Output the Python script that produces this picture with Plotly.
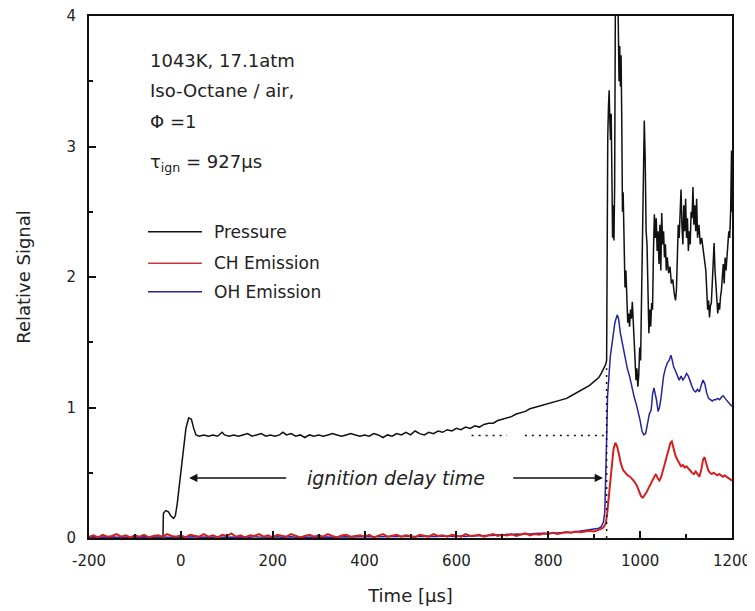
import plotly.graph_objects as go

# ---------------- data ----------------
tau_ign = 927          # ignition delay [µs]
plateau = 0.785        # post-reflected-shock pressure level

time_p = [-200, -39, -38, -33, -27, -22, -16, -12, -8, -2, 5, 11, 17, 23, 28, 33, 40,
          50, 60, 70, 80, 90, 95, 105, 115, 125, 135, 145, 155, 165, 175, 185, 195, 205, 215, 222,
          230, 240, 250, 260, 270, 280, 290, 300, 310, 320, 330, 340, 350, 360, 370, 380, 390,
          400, 410, 420, 430, 440, 450, 460, 470, 480, 490, 500, 510, 520, 530, 540, 550, 560,
          570, 580, 590, 600, 610, 620, 630, 640, 650, 660, 670, 680, 690, 700, 710, 720, 730,
          740, 750, 760, 770, 780, 790, 800, 810, 820, 830, 840, 850, 860, 870, 880, 890, 900,
          910, 915, 920, 925, 927,
          928, 929.5, 931, 932.5, 934, 935.5, 937, 938.5, 940, 941.5, 943, 944.5, 946, 949, 952,
          954, 955.5, 957, 958.5, 960, 961.5, 963, 965, 967, 969, 971, 973, 975, 977, 979, 981,
          983, 985, 987, 989, 991, 993, 995, 997, 999, 1001, 1003, 1005, 1007, 1009, 1011, 1013,
          1015, 1017, 1019, 1021, 1023, 1025, 1027, 1029, 1031, 1033, 1035, 1037, 1039, 1041,
          1043, 1045, 1047, 1049, 1051, 1053, 1055, 1057, 1059, 1062, 1065, 1068, 1071, 1074,
          1077, 1079, 1081, 1083, 1085, 1087, 1089, 1091, 1093, 1095, 1097, 1099, 1101, 1103,
          1105, 1107, 1109, 1111, 1113, 1115, 1117, 1119, 1121, 1123, 1125, 1128, 1131, 1134,
          1137, 1140, 1143, 1145, 1147, 1149, 1151, 1153, 1155, 1157, 1159, 1161, 1163, 1165,
          1167, 1169, 1171, 1173, 1175, 1177, 1179, 1181, 1183, 1185, 1187, 1189, 1191, 1193,
          1195, 1197, 1199, 1200]
pressure = [0.0, 0.0, 0.19, 0.21, 0.20, 0.17, 0.15, 0.17, 0.26, 0.45, 0.68, 0.84, 0.92, 0.91, 0.84, 0.79, 0.78,
            0.79, 0.78, 0.79, 0.78, 0.81, 0.79, 0.78, 0.79, 0.78, 0.79, 0.80, 0.78, 0.79, 0.80, 0.78, 0.79, 0.78, 0.79, 0.81,
            0.79, 0.80, 0.78, 0.79, 0.77, 0.79, 0.78, 0.79, 0.78, 0.79, 0.80, 0.79, 0.78, 0.79, 0.80, 0.79, 0.78,
            0.79, 0.78, 0.80, 0.79, 0.77, 0.79, 0.78, 0.80, 0.79, 0.81, 0.79, 0.82, 0.80, 0.79, 0.81, 0.80, 0.82,
            0.81, 0.83, 0.82, 0.84, 0.83, 0.85, 0.84, 0.86, 0.85, 0.87, 0.88, 0.88, 0.90, 0.91, 0.92, 0.93, 0.95,
            0.96, 0.97, 0.99, 1.00, 1.01, 1.02, 1.03, 1.04, 1.05, 1.06, 1.07, 1.09, 1.11, 1.13, 1.15, 1.17, 1.20,
            1.23, 1.26, 1.29, 1.33, 1.36,
            2.20, 3.07, 3.30, 3.43, 3.20, 3.05, 3.25, 2.60, 2.30, 2.55, 2.28, 2.70, 4.05, 4.10, 4.05,
            3.50, 3.77, 3.46, 3.70, 3.20, 2.50, 2.65, 2.20, 1.92, 2.05, 1.80, 1.65, 1.72, 1.62, 1.75, 1.68,
            1.81, 1.67, 1.45, 1.30, 1.21, 1.30, 1.16, 1.25, 1.46, 1.36, 1.80, 2.31, 2.60, 3.20, 2.90, 2.35,
            2.25, 1.90, 1.57, 1.75, 1.62, 1.80, 1.75, 2.20, 2.48, 2.30, 2.45, 2.20, 2.35, 2.10,
            2.40, 2.05, 2.49, 2.25, 2.35, 2.15, 2.25, 2.05, 2.15, 2.03, 2.08, 1.95, 1.98, 1.88,
            1.82, 1.90, 2.10, 2.40, 2.30, 2.55, 2.67, 2.40, 2.25, 2.55, 2.35, 2.60, 2.30, 2.45,
            2.20, 2.35, 2.25, 2.50, 2.45, 2.69, 2.40, 2.55, 2.35, 2.60, 2.30, 2.40, 2.25, 2.30,
            2.20, 2.15, 2.05, 1.90, 1.75, 1.82, 1.69, 1.78, 1.80, 1.95, 2.10, 2.26, 2.05, 1.90,
            1.85, 1.72, 1.80, 1.75, 1.85, 1.90, 2.00, 2.10, 1.95, 2.15, 2.05, 2.20, 2.25, 2.35,
            2.30, 2.50, 2.97, 2.50]

time_base = list(range(-200, 900, 10))   # sampling grid of the emission baselines

ch_base = [0.01, 0.02, 0.005, 0.025, 0.01, 0.015, 0.03, 0.01, 0.02, 0.005,
           0.02, 0.01, 0.025, 0.005, 0.015, 0.02, 0.01, 0.03, 0.015, 0.01,
           0.02, 0.005, 0.025, 0.015, 0.01, 0.03, 0.01, 0.02, 0.005, 0.025,
           0.015, 0.035, 0.01, 0.02, 0.005, 0.02, 0.015, 0.03, 0.01, 0.02,
           0.005, 0.025, 0.015, 0.01, 0.03, 0.02, 0.005, 0.015, 0.025, 0.01,
           0.02, 0.01, 0.03, 0.015, 0.005, 0.02, 0.025, 0.01, 0.015, 0.02,
           0.01, 0.025, 0.005, 0.02, 0.03, 0.01, 0.015, 0.025, 0.01, 0.02,
           0.015, 0.005, 0.025, 0.02, 0.01, 0.03, 0.015, 0.02, 0.01, 0.025,
           0.02, 0.01, 0.03, 0.015, 0.02, 0.025, 0.01, 0.02, 0.03, 0.015,
           0.025, 0.02, 0.03, 0.015, 0.025, 0.035, 0.02, 0.03, 0.025, 0.035,
           0.03, 0.04, 0.03, 0.035, 0.045, 0.04, 0.05, 0.045, 0.05, 0.055]
oh_base = [0.005, 0.01, 0.005, 0.008, 0.005, 0.01, 0.006, 0.005, 0.008, 0.005,
           0.008, 0.005, 0.01, 0.006, 0.005, 0.008, 0.01, 0.005, 0.007, 0.006,
           0.005, 0.008, 0.006, 0.01, 0.005, 0.007, 0.008, 0.005, 0.01, 0.006,
           0.007, 0.005, 0.009, 0.006, 0.008, 0.005, 0.01, 0.007, 0.005, 0.008,
           0.006, 0.009, 0.005, 0.008, 0.01, 0.006, 0.007, 0.005, 0.009, 0.008,
           0.007, 0.01, 0.008, 0.006, 0.009, 0.008, 0.01, 0.007, 0.009, 0.01,
           0.008, 0.011, 0.009, 0.01, 0.012, 0.009, 0.011, 0.01, 0.012, 0.011,
           0.01, 0.012, 0.011, 0.013, 0.012, 0.014, 0.012, 0.015, 0.013, 0.014,
           0.012, 0.015, 0.012, 0.018, 0.015, 0.02, 0.018, 0.022, 0.02, 0.025,
           0.022, 0.028, 0.025, 0.03, 0.028, 0.032, 0.03, 0.035, 0.033, 0.036,
           0.035, 0.04, 0.038, 0.042, 0.045, 0.043, 0.048, 0.05, 0.055, 0.06]

time_oh_peak = [900, 910, 915, 920, 923, 925, 927, 929, 932, 935, 940, 945, 950, 953, 957, 962,
                967, 972, 977, 982, 987, 992, 996, 1000, 1004, 1008, 1012, 1016, 1020, 1024,
                1027, 1030, 1033, 1036, 1039, 1042, 1045, 1048, 1051, 1055, 1059, 1063, 1067,
                1070, 1073, 1077, 1081, 1085, 1089, 1093, 1097, 1101, 1105, 1109, 1113, 1117,
                1121, 1125, 1129, 1133, 1137, 1141, 1145, 1149, 1153, 1157, 1161, 1165, 1169,
                1173, 1177, 1181, 1185, 1189, 1193, 1197, 1200]
oh_peak = [0.065, 0.075, 0.085, 0.12, 0.20, 0.40, 0.75, 1.08, 1.25, 1.39, 1.52, 1.65, 1.71, 1.68, 1.57, 1.48,
           1.39, 1.30, 1.24, 1.15, 1.08, 1.02, 0.97, 0.90, 0.82, 0.79, 0.80, 0.87, 0.95, 0.98,
           1.10, 1.15, 1.10, 1.05, 0.97, 1.00, 1.06, 1.15, 1.24, 1.30, 1.34, 1.36, 1.40,
           1.36, 1.31, 1.28, 1.24, 1.21, 1.24, 1.21, 1.23, 1.26, 1.24, 1.19, 1.16, 1.13,
           1.12, 1.14, 1.12, 1.17, 1.21, 1.18, 1.11, 1.07, 1.06, 1.05, 1.06, 1.06, 1.07,
           1.06, 1.08, 1.09, 1.07, 1.05, 1.03, 1.02, 1.01]

time_ch_peak = [900, 910, 915, 920, 925, 928, 931, 934, 938, 942, 946, 950, 954, 958, 963, 968,
                973, 978, 983, 988, 993, 998, 1002, 1006, 1010, 1014, 1018, 1022, 1026, 1030,
                1034, 1038, 1042, 1046, 1050, 1054, 1058, 1062, 1066, 1069, 1073, 1077, 1081,
                1085, 1089, 1093, 1097, 1101, 1105, 1109, 1113, 1117, 1121, 1125, 1129, 1133,
                1137, 1140, 1144, 1148, 1152, 1156, 1160, 1164, 1168, 1172, 1176, 1180, 1184,
                1188, 1192, 1196, 1200]
ch_peak = [0.05, 0.06, 0.07, 0.08, 0.11, 0.18, 0.29, 0.42, 0.55, 0.68, 0.73, 0.70, 0.64, 0.57, 0.52, 0.50,
           0.48, 0.47, 0.45, 0.43, 0.40, 0.36, 0.32, 0.31, 0.33, 0.35, 0.38, 0.41, 0.44, 0.47,
           0.49, 0.46, 0.44, 0.47, 0.52, 0.58, 0.63, 0.68, 0.73, 0.74, 0.68, 0.63, 0.60,
           0.58, 0.55, 0.56, 0.54, 0.55, 0.53, 0.51, 0.50, 0.49, 0.51, 0.49, 0.47, 0.52,
           0.60, 0.62, 0.56, 0.52, 0.50, 0.49, 0.50, 0.49, 0.48, 0.49, 0.48, 0.47, 0.48,
           0.47, 0.46, 0.45, 0.44]

series_names = ["Pressure", "CH Emission", "OH Emission"]
x_ticks = [-200, 0, 200, 400, 600, 800, 1000, 1200]
y_ticks = [0, 1, 2, 3, 4]

# ---------------- style ----------------
BLACK = "#111111"
RED = "#d42020"
BLUE = "#26269a"
FONT = "DejaVu Sans"
TXT = "#222222"

fig = go.Figure()
fig.add_trace(go.Scatter(x=time_p, y=pressure, mode="lines", name=series_names[0],
                         line=dict(color=BLACK, width=1.5)))
fig.add_trace(go.Scatter(x=time_base + time_oh_peak, y=oh_base + oh_peak, mode="lines",
                         name=series_names[2], line=dict(color=BLUE, width=1.5)))
fig.add_trace(go.Scatter(x=time_base + time_ch_peak, y=ch_base + ch_peak, mode="lines",
                         name=series_names[1], line=dict(color=RED, width=2)))

# dotted guide lines (plateau level and ignition time)
dot = dict(color=BLACK, width=1.5, dash="2px,5px")
shapes = [
    dict(type="line", xref="x", yref="y", x0=633, x1=710, y0=plateau, y1=plateau, line=dot),
    dict(type="line", xref="x", yref="y", x0=749, x1=tau_ign - 4, y0=plateau, y1=plateau, line=dot),
    dict(type="line", xref="x", yref="y", x0=tau_ign, x1=tau_ign, y0=0, y1=1.3, line=dot),
]

# manual legend
leg_x0, leg_x1, leg_tx = 0.0918, 0.1757, 0.1913
leg_y = [0.5868, 0.5262, 0.4718]
leg_col = [BLACK, "#c83838", BLUE]
annotations = []
for name, yy, cc in zip(series_names, leg_y, leg_col):
    shapes.append(dict(type="line", xref="paper", yref="paper", x0=leg_x0, x1=leg_x1,
                       y0=yy, y1=yy, line=dict(color=cc, width=1.5)))
    annotations.append(dict(xref="paper", yref="paper", x=leg_tx, y=yy, text=name,
                            showarrow=False, xanchor="left", yanchor="middle",
                            font=dict(family=FONT, size=17, color=TXT)))

# condition text block
info = [("1043K, 17.1atm", 0.9157), ("Iso-Octane / air,", 0.858), ("Φ =1", 0.7975),
        ("τ<sub>ign</sub> = 927µs", 0.718)]
for txt, yy in info:
    annotations.append(dict(xref="paper", yref="paper", x=0.0918, y=yy, text=txt,
                            showarrow=False, xanchor="left", yanchor="middle",
                            font=dict(family=FONT, size=18, color=TXT)))

# ignition delay arrow
arrow_y = 0.46
arrow_style = dict(showarrow=True, arrowhead=2, arrowsize=1.1, arrowwidth=1.5,
                   arrowcolor=BLACK, xref="x", yref="y", axref="x", ayref="y", text=" ")
annotations.append(dict(x=18, y=arrow_y, ax=237, ay=arrow_y, **arrow_style))
annotations.append(dict(x=tau_ign - 8, y=arrow_y, ax=716, ay=arrow_y, **arrow_style))
annotations.append(dict(x=468, y=arrow_y, xref="x", yref="y", text="ignition delay time",
                        showarrow=False, xanchor="center", yanchor="middle",
                        font=dict(family=FONT, size=19, color=TXT, style="italic")))

# page body adds an 8 px offset; margins compensate so the plot box lands at 89..732 / 16..538
fig.update_layout(
    width=755, height=611,
    margin=dict(l=81, r=31, t=8, b=81, autoexpand=False),
    plot_bgcolor="white", paper_bgcolor="white",
    showlegend=False,
    font=dict(family=FONT, color=TXT),
    shapes=shapes, annotations=annotations,
)
fig.update_xaxes(
    range=[-200, 1200], tickmode="array", tickvals=x_ticks,
    ticktext=[str(v) for v in x_ticks], automargin=False, ticklabeloverflow="allow",
    ticks="inside", ticklen=7, tickwidth=1.5, tickcolor=BLACK,
    minor=dict(ticks="inside", ticklen=4, tickwidth=1.5, tickcolor=BLACK, dtick=100, tick0=0),
    showline=True, linewidth=2, linecolor=BLACK, mirror=True,
    showgrid=False, zeroline=False,
    tickfont=dict(family=FONT, size=15, color=TXT), ticklabelstandoff=8,
    title=dict(text="Time [µs]", font=dict(family=FONT, size=18, color=TXT), standoff=20),
)
fig.update_yaxes(
    range=[0, 4], tickmode="array", tickvals=y_ticks,
    ticktext=[str(v) for v in y_ticks], automargin=False, ticklabeloverflow="allow",
    ticks="inside", ticklen=7, tickwidth=1.5, tickcolor=BLACK,
    minor=dict(ticks="inside", ticklen=4, tickwidth=1.5, tickcolor=BLACK, dtick=0.5, tick0=0),
    showline=True, linewidth=2, linecolor=BLACK, mirror=True,
    showgrid=False, zeroline=False,
    tickfont=dict(family=FONT, size=15, color=TXT), ticklabelstandoff=8,
    title=dict(text="Relative Signal", font=dict(family=FONT, size=18, color=TXT), standoff=31),
)

fig.write_html("out.html")
